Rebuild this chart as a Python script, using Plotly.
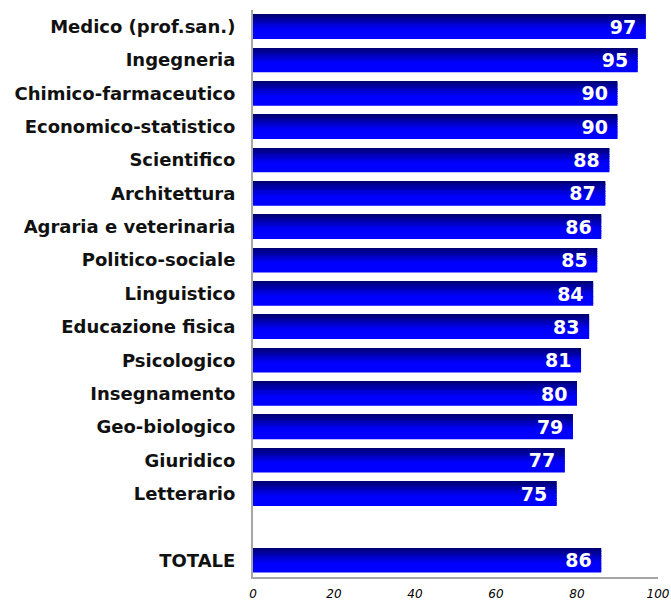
import plotly.graph_objects as go

categories = ["Medico (prof.san.)", "Ingegneria", "Chimico-farmaceutico", "Economico-statistico",
              "Scientifico", "Architettura", "Agraria e veterinaria", "Politico-sociale",
              "Linguistico", "Educazione fisica", "Psicologico", "Insegnamento",
              "Geo-biologico", "Giuridico", "Letterario", " ", "TOTALE"]
values = [97, 95, 90, 90, 88, 87, 86, 85, 84, 83, 81, 80, 79, 77, 75, None, 86]
x_ticks = [0, 20, 40, 60, 80, 100]

fig = go.Figure()

bar_w = 0.72
n = 14
step = bar_w / n
top_c = (0, 0, 118)
bot_c = (0, 0, 255)
for i in range(n):
    t = min(1.0, i / (0.6 * n))
    c = tuple(int(round(a + (b - a) * t)) for a, b in zip(top_c, bot_c))
    fig.add_trace(go.Bar(
        x=values, y=categories, orientation="h",
        width=step * 1.15, offset=-bar_w / 2 + i * step,
        marker=dict(color="rgb(%d,%d,%d)" % c, line=dict(width=0)),
        hoverinfo="skip", showlegend=False,
    ))

fig.add_trace(go.Bar(
    x=values, y=categories, orientation="h", width=bar_w,
    marker=dict(color="rgba(0,0,0,0)", line=dict(width=0)),
    texttemplate="%{x}\u00a0", textposition="inside", insidetextanchor="end",
    textfont=dict(color="white", size=19, family="DejaVu Sans", weight="bold"),
    constraintext="none", showlegend=False,
))

fig.update_layout(
    width=671, height=601,
    margin=dict(l=253, r=13, t=10, b=24, autoexpand=False),
    barmode="overlay",
    plot_bgcolor="white", paper_bgcolor="white",
    xaxis=dict(range=[0, 100], tickvals=x_ticks, showgrid=False, zeroline=False,
               showline=True, linecolor="#a6a6a6", linewidth=2, automargin=False,
               tickfont=dict(size=12, color="black", family="DejaVu Sans", style="italic"),
               ticklabelstandoff=5),
    yaxis=dict(categoryorder="array", categoryarray=categories, autorange="reversed",
               showgrid=False, zeroline=False, showline=True, linecolor="#a6a6a6", linewidth=2,
               automargin=False,
               tickfont=dict(size=18, color="#111111", family="DejaVu Sans", weight="bold"),
               ticklabelstandoff=12),
)

fig.write_html("out.html", config={"displayModeBar": False},
               post_script="document.body.style.margin='0';document.body.style.overflow='hidden';")
